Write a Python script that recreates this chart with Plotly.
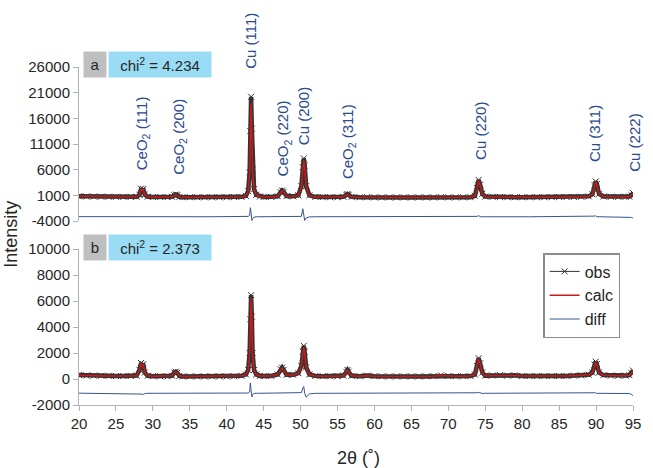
import plotly.graph_objects as go

# ---------------- data ----------------
two_theta = [
    20, 21, 22, 23, 24, 25, 26, 27,
    27.8, 28.2, 28.4, 28.55, 28.7, 28.9, 29.3,
    30, 31, 32,
    32.6, 32.9, 33.1, 33.3, 33.6,
    34, 35, 36, 37, 38, 39, 40, 41, 42,
    42.6, 42.9, 43.1, 43.2, 43.3, 43.4, 43.5, 43.7, 44.0, 44.5,
    45, 46,
    46.9, 47.3, 47.5, 47.7, 48.1,
    49,
    49.7, 50.1, 50.3, 50.43, 50.55, 50.75, 51.2,
    52, 53, 54, 55,
    55.8, 56.2, 56.35, 56.5, 56.9,
    58, 59, 60, 61, 62, 63, 64, 65, 66, 67, 68, 69, 70, 71, 72, 73,
    73.6, 73.9, 74.1, 74.3, 74.6, 75,
    76, 77, 78, 79, 80, 81, 82, 83, 84, 85, 86, 87, 88, 89,
    89.5, 89.8, 89.95, 90.1, 90.4,
    91, 92, 93, 94, 94.5, 94.8, 95,
]

obs_a = [
    820, 780, 760, 740, 720, 700, 690, 690,
    720, 1100, 2300, 2000, 2250, 1150, 740,
    680, 670, 660,
    700, 1000, 1150, 1050, 700,
    650, 640, 640, 630, 630, 630, 640, 660, 700,
    900, 1800, 5500, 13500, 20200, 14000, 6000, 2200, 1100, 780,
    680, 700,
    820, 1600, 1950, 1700, 850,
    800,
    1000, 2800, 6500, 8200, 6800, 2800, 1000,
    700, 660, 640, 630,
    700, 1100, 1250, 1100, 700,
    620, 650, 610, 600, 600, 600, 600, 600, 600, 600, 600, 640, 610, 610, 620, 640,
    900, 2400, 4000, 3100, 1300, 750,
    680, 660, 650, 650, 640, 640, 640, 650, 650, 660, 670, 690, 720, 800,
    1200, 3000, 3700, 3200, 1300,
    780, 720, 700, 710, 760, 1000, 1450,
]
calc_a = [
    800, 770, 750, 735, 715, 700, 690, 685,
    715, 1050, 2200, 1950, 2150, 1100, 730,
    675, 665, 655,
    690, 960, 1100, 1000, 690,
    645, 635, 635, 625, 625, 625, 635, 655, 695,
    880, 1700, 5200, 12800, 19000, 13500, 5800, 2100, 1080, 770,
    675, 695,
    800, 1550, 1880, 1650, 830,
    790,
    980, 2700, 6200, 7800, 6500, 2700, 980,
    695, 655, 635, 625,
    690, 1060, 1200, 1060, 690,
    615, 640, 605, 595, 595, 595, 595, 595, 595, 595, 595, 630, 605, 605, 615, 635,
    880, 2300, 3850, 3000, 1260, 740,
    675, 655, 645, 645, 635, 635, 635, 645, 645, 655, 665, 685, 715, 790,
    1170, 2900, 3600, 3100, 1260,
    770, 715, 695, 705, 750, 980, 1400,
]
diff_a = [
    -3150, -3160, -3160, -3170, -3170, -3170, -3170, -3170,
    -3170, -3130, -3100, -3150, -3120, -3150, -3170,
    -3170, -3170, -3170,
    -3170, -3150, -3140, -3140, -3170,
    -3170, -3170, -3170, -3170, -3170, -3170, -3170, -3170, -3170,
    -3160, -3100, -2900, -1400, -2400, -3900, -3500, -3250, -3180, -3170,
    -3170, -3170,
    -3170, -3130, -3120, -3130, -3170,
    -3170,
    -3170, -3100, -1600, -2700, -3900, -3400, -3200,
    -3170, -3170, -3170, -3170,
    -3170, -3150, -3130, -3150, -3170,
    -3175, -3160, -3175, -3180, -3180, -3180, -3180, -3180, -3180, -3180, -3175, -3160, -3175, -3180, -3180, -3175,
    -3170, -3100, -2950, -3150, -3180, -3170,
    -3170, -3170, -3170, -3170, -3175, -3175, -3175, -3175, -3175, -3175, -3170, -3170, -3170, -3165,
    -3160, -3050, -2950, -3200, -3170,
    -3170, -3175, -3180, -3180, -3200, -3300, -3450,
]

obs_b = [
    300, 270, 260, 250, 240, 230, 230, 230,
    260, 700, 1230, 1000, 1150, 500, 250,
    220, 210, 210,
    250, 500, 560, 480, 240,
    200, 200, 200, 200, 200, 200, 200, 210, 250,
    350, 700, 2000, 4600, 6450, 4800, 2000, 700, 350, 240,
    220, 240,
    350, 750, 870, 700, 320,
    320,
    450, 1000, 2100, 2550, 2100, 900, 350,
    240, 220, 210, 210,
    260, 550, 690, 560, 250,
    210, 260, 220, 200, 200, 200, 200, 200, 200, 200, 220, 280, 230, 210, 210, 230,
    350, 1000, 1600, 1200, 500, 260,
    270, 300, 260, 280, 230, 220, 220, 220, 230, 230, 240, 260, 280, 330,
    500, 1100, 1330, 1150, 500,
    300, 260, 250, 260, 300, 450, 650,
]
calc_b = [
    290, 265, 255, 245, 235, 228, 226, 226,
    255, 680, 1180, 980, 1100, 480, 245,
    218, 208, 208,
    245, 480, 540, 460, 236,
    198, 198, 198, 198, 198, 198, 198, 206, 245,
    340, 680, 1900, 4400, 6200, 4700, 1950, 680, 340, 236,
    218, 236,
    340, 720, 840, 680, 315,
    315,
    440, 970, 2050, 2450, 2050, 880, 345,
    236, 218, 208, 208,
    255, 530, 660, 540, 245,
    208, 250, 216, 198, 198, 198, 198, 198, 198, 198, 216, 265, 226, 208, 208, 226,
    345, 980, 1540, 1170, 490, 255,
    265, 290, 255, 270, 226, 218, 218, 218, 226, 226, 236, 255, 275, 320,
    490, 1070, 1290, 1120, 490,
    295, 256, 246, 256, 295, 440, 630,
]
diff_b = [
    -1090, -1095, -1095, -1095, -1100, -1100, -1100, -1100,
    -1100, -1110, -1150, -1160, -1200, -1120, -1100,
    -1100, -1100, -1100,
    -1100, -1090, -1080, -1090, -1100,
    -1100, -1100, -1100, -1100, -1100, -1100, -1100, -1100, -1100,
    -1090, -1080, -1000, -300, -900, -1380, -1200, -1110, -1100, -1100,
    -1100, -1100,
    -1100, -1080, -1070, -1080, -1100,
    -1100,
    -1100, -1050, -700, -580, -1100, -1400, -1150,
    -1100, -1100, -1100, -1100,
    -1100, -1090, -1080, -1090, -1100,
    -1100, -1095, -1100, -1105, -1100, -1105, -1100, -1100, -1105, -1100, -1095, -1090, -1100, -1100, -1105, -1100,
    -1100, -1060, -1030, -1080, -1110, -1100,
    -1100, -1100, -1105, -1100, -1100, -1105, -1100, -1100, -1105, -1100, -1100, -1100, -1095, -1090,
    -1100, -1060, -1040, -1120, -1100,
    -1100, -1100, -1100, -1110, -1120, -1180, -1300,
]

for arr in (obs_a, calc_a, diff_a, obs_b, calc_b, diff_b):
    assert len(arr) == len(two_theta), len(arr)

peak_labels = ["CeO<sub>2</sub> (111)", "CeO<sub>2</sub> (200)", "Cu (111)",
               "CeO<sub>2</sub> (220)", "Cu (200)", "CeO<sub>2</sub> (311)",
               "Cu (220)", "Cu (311)", "Cu (222)"]
peak_pos = [28.56, 33.5, 43.26, 47.67, 50.35, 56.5, 74.28, 89.8, 95.1]

panel_names = ["a", "b"]
chi2_values = ["4.234", "2.373"]

x_ticks = list(range(20, 96, 5))
y_ticks_a = list(range(-4000, 26001, 5000))
y_ticks_b = list(range(-2000, 10001, 2000))
x_range = [20, 95]

# ---------------- styling / layout ----------------
W, H = 653, 468
L, R, T, B = 79, 13, 67, 63
PW, PH = W - L - R, H - T - B


def px_x(p):
    return (p - L) / PW


def px_y(p):
    return (H - B - p) / PH


def data_to_paper_x(v):
    return (v - x_range[0]) / (x_range[1] - x_range[0])


def tick_text(vals):
    return [str(v) for v in vals]


FONT = "Liberation Sans, Arial, sans-serif"
TXT = "#262626"
AX = "#b3b3b3"
OBS_C = "#333333"
CALC_C = "#cc1a1a"
DIFF_C = "#34558f"
LAB_C = "#2a4a8c"

fig = go.Figure()

panels = [("x", "y", obs_a, calc_a, diff_a, True),
          ("x2", "y2", obs_b, calc_b, diff_b, False)]
for xa, ya, ob, ca, di, first in panels:
    # dense observed band
    fig.add_trace(go.Scatter(x=two_theta, y=ob, xaxis=xa, yaxis=ya, mode="lines",
                             line=dict(color=OBS_C, width=4.5), showlegend=False,
                             hoverinfo="skip"))
    fig.add_trace(go.Scatter(x=two_theta, y=ob, xaxis=xa, yaxis=ya, mode="lines+markers",
                             name="obs", legendgroup="obs", showlegend=not first,
                             line=dict(color=OBS_C, width=1),
                             marker=dict(symbol="x-thin", size=6,
                                         line=dict(color=OBS_C, width=1))))
    fig.add_trace(go.Scatter(x=two_theta, y=ca, xaxis=xa, yaxis=ya, mode="lines",
                             name="calc", legendgroup="calc", showlegend=not first,
                             line=dict(color=CALC_C, width=1.5)))
    fig.add_trace(go.Scatter(x=two_theta, y=di, xaxis=xa, yaxis=ya, mode="lines",
                             name="diff", legendgroup="diff", showlegend=not first,
                             line=dict(color=DIFF_C, width=1)))

top_dom = [px_y(221), 1.0]
bot_dom = [0.0, px_y(249)]

axis_common = dict(showgrid=False, zeroline=False, linecolor=AX, linewidth=1,
                   tickcolor=AX, ticklen=5, tickwidth=1,
                   tickfont=dict(family=FONT, size=15, color=TXT))

fig.update_layout(
    width=W, height=H,
    margin=dict(l=L, r=R, t=T, b=B),
    paper_bgcolor="white", plot_bgcolor="white",
    font=dict(family=FONT, color=TXT),
    xaxis=dict(domain=[0, 1], range=x_range, anchor="y", matches="x2",
               showline=False, showticklabels=False, ticks="",
               showgrid=False, zeroline=False),
    yaxis=dict(domain=top_dom, range=[-4000, 26000], tickvals=y_ticks_a,
               ticktext=tick_text(y_ticks_a),
               showline=True, ticks="outside", anchor="x", **axis_common),
    xaxis2=dict(domain=[0, 1], range=x_range, anchor="y2", tickvals=x_ticks,
                ticktext=tick_text(x_ticks),
                showline=True, ticks="outside", **axis_common),
    yaxis2=dict(domain=bot_dom, range=[-2000, 10000], tickvals=y_ticks_b,
                ticktext=tick_text(y_ticks_b),
                showline=True, ticks="outside", anchor="x2", **axis_common),
    legend=dict(x=px_x(549), y=px_y(253), xanchor="left", yanchor="top",
                bgcolor="white", bordercolor="#8c8c8c", borderwidth=1.5,
                font=dict(family=FONT, size=16, color=TXT),
                tracegroupgap=0, itemwidth=30, entrywidth=58),
    showlegend=True,
)

annotations = []
# panel tags and chi^2 boxes
for name, chi, top_px in zip(panel_names, chi2_values, [51, 234]):
    annotations.append(dict(xref="paper", yref="paper", x=px_x(83), y=px_y(top_px),
                            xanchor="left", yanchor="top", text=name, showarrow=False,
                            width=22, height=25, bgcolor="#bfbfbf", borderpad=0,
                            font=dict(family=FONT, size=15, color=TXT)))
    annotations.append(dict(xref="paper", yref="paper", x=px_x(108), y=px_y(top_px),
                            xanchor="left", yanchor="top",
                            text="chi<sup>2</sup> = " + chi, showarrow=False,
                            width=102, height=25, bgcolor="#99dcf4", borderpad=0,
                            font=dict(family=FONT, size=15, color=TXT)))

# peak labels (rotated), bottom pixel of each label
label_bottom_px = [172, 177, 71, 178, 147, 181, 162, 164, 174]
for lab, pos, bpx in zip(peak_labels, peak_pos, label_bottom_px):
    annotations.append(dict(xref="paper", yref="paper", x=data_to_paper_x(pos),
                            y=px_y(bpx),
                            xanchor="center", yanchor="bottom", text=lab,
                            textangle=-90, showarrow=False,
                            font=dict(family=FONT, size=15, color=LAB_C)))

# axis titles
annotations.append(dict(xref="paper", yref="paper", x=px_x(10), y=px_y(234),
                        xanchor="center", yanchor="middle", text="Intensity",
                        textangle=-90, showarrow=False,
                        font=dict(family=FONT, size=18, color=TXT)))
annotations.append(dict(xref="paper", yref="paper", x=px_x(362), y=px_y(458),
                        xanchor="center", yanchor="middle", text="2θ (˚)",
                        showarrow=False,
                        font=dict(family=FONT, size=18, color=TXT)))

fig.update_layout(annotations=annotations)

fig.write_html("out.html")
